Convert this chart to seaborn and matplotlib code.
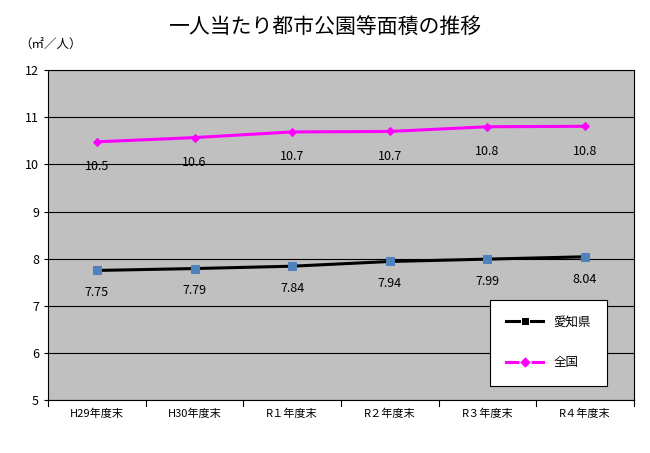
import matplotlib
matplotlib.use("Agg")
import matplotlib.pyplot as plt
import seaborn as sns
import pandas as pd

categories = ["H29年度末", "H30年度末", "R１年度末", "R２年度末", "R３年度末", "R４年度末"]
aichi = [7.75, 7.79, 7.84, 7.94, 7.99, 8.04]
aichi_labels = ["7.75", "7.79", "7.84", "7.94", "7.99", "8.04"]
zenkoku = [10.48, 10.57, 10.69, 10.70, 10.80, 10.81]
zenkoku_labels = ["10.5", "10.6", "10.7", "10.7", "10.8", "10.8"]

plt.rcParams["font.family"] = "Noto Sans CJK JP"
fig = plt.figure(figsize=(6.5, 4.53), dpi=100)
ax = fig.add_axes([0.074, 0.117, 0.901, 0.728])
ax.set_facecolor("#c0c0c0")

df = pd.DataFrame({"x": list(range(len(categories))) * 2,
                   "y": aichi + zenkoku,
                   "s": ["愛知県"] * 6 + ["全国"] * 6})
sns.lineplot(data=df, x="x", y="y", hue="s", style="s",
             palette={"愛知県": "black", "全国": "#ff00ff"},
             markers={"愛知県": "s", "全国": "D"}, dashes=False,
             linewidth=2.2, markersize=6, ax=ax)
for line, mc in zip(ax.get_lines()[:2], ["#4f81bd", "#ff00ff"]):
    line.set_markerfacecolor(mc); line.set_markeredgecolor(mc)
ax.get_lines()[1].set_markersize(4.5)

for i in range(6):
    ax.annotate(aichi_labels[i], (i, aichi[i]), xytext=(0, -16), textcoords="offset points",
                ha="center", va="center", fontsize=9)
    ax.annotate(zenkoku_labels[i], (i, zenkoku[i]), xytext=(0, -18), textcoords="offset points",
                ha="center", va="center", fontsize=9)

ax.set_xlim(-0.5, 5.5)
ax.set_ylim(5, 12)
ax.set_yticks(range(5, 13))
ax.set_xticks(range(6))
ax.set_xticklabels(categories, fontsize=8)
ax.tick_params(axis="y", labelsize=9, length=3)
ax.tick_params(axis="x", length=0, pad=6)
for k in range(7):
    ax.plot([k - 0.5, k - 0.5], [5, 4.87], color="black", lw=0.8, clip_on=False)
ax.grid(axis="y", color="black", lw=0.8)
ax.set_axisbelow(True)
for s in ax.spines.values():
    s.set_color("black"); s.set_linewidth(0.8)
ax.set_xlabel(""); ax.set_ylabel("")

h, l = ax.get_legend_handles_labels()
leg = ax.legend(h, l, loc="lower right", bbox_to_anchor=(0.965, 0.025), frameon=True,
                fancybox=False, edgecolor="black", facecolor="white", framealpha=1,
                fontsize=9, labelspacing=2.2, borderpad=1.3, handlelength=3)
leg.get_frame().set_linewidth(0.8)

fig.text(0.5, 0.94, "一人当たり都市公園等面積の推移", ha="center", va="center", fontsize=15)
fig.text(0.03, 0.9, "（㎡／人）", ha="left", va="center", fontsize=9)
fig.savefig("out.png", dpi=100)
